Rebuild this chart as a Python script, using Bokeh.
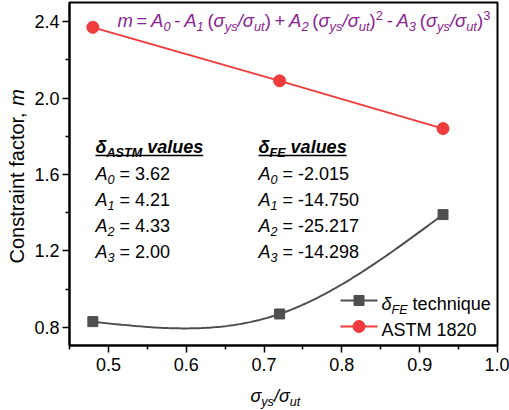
import numpy as np
from bokeh.plotting import figure
from bokeh.layouts import row, column
from bokeh.models import Label, FixedTicker, PrintfTickFormatter, Range1d
from bokeh.embed import file_html
from bokeh.resources import INLINE

# ---------------- data ----------------
ratio = [0.48, 0.72, 0.93]          # sigma_ys / sigma_ut
m_fe = [0.83, 0.87, 1.39]           # delta_FE technique
m_astm = [2.37, 2.09, 1.84]         # ASTM 1820
astm_coef = ["3.62", "4.21", "4.33", "2.00"]
fe_coef = ["-2.015", "-14.750", "-25.217", "-14.298"]
x_ticks = [0.5, 0.6, 0.7, 0.8, 0.9, 1.0]
x_minor = [0.45, 0.55, 0.65, 0.75, 0.85, 0.95]
y_ticks = [0.8, 1.2, 1.6, 2.0, 2.4]
y_minor = [1.0, 1.4, 1.8, 2.2]

# ---------------- geometry / style ----------------
X0, X1 = 0.45, 1.0
Y0, Y1 = 0.705, 2.5
W, H = 509, 410
YLAB_W = 28          # strip holding the y-axis title
XLAB_H = 25          # strip holding the x-axis title
PW, PH = W - YLAB_W, H - XLAB_H
FL, FR, FT, FB = 69, 497, 2, 345      # frame edges in page pixels
FONT = "Liberation Sans"
GRAY = "#4f4f4f"
RED = "#f03c3c"
PURPLE = "#8a2391"
SUB = 0.7
BL_FIX = 0.27        # baseline correction (fraction of font size)


def natural_spline(xs, ys, n=80):
    xs = np.asarray(xs, float)
    ys = np.asarray(ys, float)
    k = len(xs)
    h = np.diff(xs)
    A = np.zeros((k, k))
    b = np.zeros(k)
    A[0, 0] = A[-1, -1] = 1.0
    for i in range(1, k - 1):
        A[i, i - 1] = h[i - 1]
        A[i, i] = 2 * (h[i - 1] + h[i])
        A[i, i + 1] = h[i]
        b[i] = 6 * ((ys[i + 1] - ys[i]) / h[i] - (ys[i] - ys[i - 1]) / h[i - 1])
    M = np.linalg.solve(A, b)
    xx, yy = [], []
    for i in range(k - 1):
        t = np.linspace(xs[i], xs[i + 1], n)
        a = xs[i + 1] - t
        c = t - xs[i]
        s = (M[i] * a ** 3 + M[i + 1] * c ** 3) / (6 * h[i]) \
            + (ys[i] / h[i] - M[i] * h[i] / 6) * a \
            + (ys[i + 1] / h[i] - M[i + 1] * h[i] / 6) * c
        xx.extend(t.tolist())
        yy.extend(s.tolist())
    return xx, yy


p = figure(width=PW, height=PH, x_range=Range1d(X0, X1), y_range=Range1d(Y0, Y1),
           output_backend="svg", toolbar_location=None,
           min_border_left=FL - YLAB_W, min_border_right=W - FR,
           min_border_top=FT, min_border_bottom=PH - FB)
p.grid.visible = False
p.outline_line_color = "black"
p.outline_line_width = 2
p.background_fill_color = "white"
p.border_fill_color = "white"

for ax, tk, mn in ((p.xaxis[0], x_ticks, x_minor), (p.yaxis[0], y_ticks, y_minor)):
    ax.ticker = FixedTicker(ticks=tk, minor_ticks=mn)
    ax.formatter = PrintfTickFormatter(format="%.1f")
    ax.axis_line_width = 2
    ax.axis_line_color = "black"
    ax.major_tick_out = 7
    ax.major_tick_in = 0
    ax.minor_tick_out = 4
    ax.minor_tick_in = 0
    ax.major_tick_line_width = 1.5
    ax.minor_tick_line_width = 1.5
    ax.major_label_text_font = FONT
    ax.major_label_text_font_size = "18px"
    ax.major_label_text_color = "black"
p.xaxis.major_label_standoff = 5
p.yaxis.major_label_standoff = 3

# ---------------- series ----------------
sx, sy = natural_spline(ratio, m_fe)
p.line(sx, sy, line_color=GRAY, line_width=2)
p.scatter(ratio, m_fe, marker="square", size=10, fill_color=GRAY, line_color=GRAY)
p.line(ratio, m_astm, line_color=RED, line_width=2)
p.scatter(ratio, m_astm, marker="circle", size=12, fill_color=RED, line_color=RED)

# ---------------- text helpers ----------------
REG = {' ': 278, '(': 333, ')': 333, '+': 584, ',': 278, '-': 333, '.': 278, '/': 278,
       '=': 584, 'A': 667, 'C': 722, 'E': 667, 'F': 611, 'M': 833, 'S': 667, 'T': 611,
       'a': 556, 'c': 500, 'e': 556, 'f': 278, 'h': 556, 'i': 222, 'l': 222, 'm': 833,
       'n': 556, 'o': 556, 'q': 556, 'r': 333, 's': 500, 't': 278, 'u': 556, 'v': 500,
       'y': 500, 'k': 500, 'σ': 600, 'δ': 556}
BOLD = {' ': 278, 'A': 722, 'S': 667, 'T': 611, 'M': 833, 'E': 667, 'F': 611, 'v': 556,
        'a': 556, 'l': 278, 'u': 611, 'e': 556, 's': 556, 'δ': 611}


def tw(s, bold, space=None):
    tab = BOLD if bold else REG
    tot = 0
    for ch in s:
        if ch == " " and space is not None:
            tot += space
        else:
            tot += tab.get(ch, 556)
    return tot / 1000.0


def px2data(px, py):
    return (X0 + (px - FL) / (FR - FL) * (X1 - X0),
            Y1 - (py - FT) / (FB - FT) * (Y1 - Y0))


def rich(fig, px, py, runs, size, color="black", angle=0.0, space=None, units="data"):
    """Lay out runs of text (normal / sub / sup) one after another."""
    if units == "data":
        x, y = px2data(px, py)
    else:                      # canvas units: origin top-left, y downward
        x, y = px, py
    adv = 0.0
    for text, style, pos in runs:
        fs = size * SUB if pos in ("sub", "sup") else size
        shift = {"n": 0.0, "sub": -0.25 * size, "sup": 0.36 * size}[pos]
        shift += BL_FIX * fs
        bold = "bold" in style
        lead = len(text) - len(text.lstrip(" "))
        core = text.strip(" ")
        off = adv + tw(" " * lead, bold, space) * fs
        if core:
            if angle:
                xo, yo = -shift, off
            else:
                xo, yo = off, shift
            if units == "canvas":
                x_, y_ = x + xo, y - yo
                xo, yo = 0, 0
            else:
                x_, y_ = x, y
            fig.add_layout(Label(x=x_, y=y_, x_units=units, y_units=units,
                                 x_offset=xo, y_offset=yo, text=core,
                                 text_font=FONT, text_font_size=f"{fs:.1f}px",
                                 text_font_style=style, text_color=color,
                                 text_baseline="alphabetic", text_align="left",
                                 angle=angle))
        adv += tw(text, bold, space) * fs
    return adv


I, N, BI = "italic", "normal", "bold italic"

# equation
sig = [("σ", I, "n"), ("ys", I, "sub"), ("/", I, "n"), ("σ", I, "n"), ("ut", I, "sub")]
eq = [("m", I, "n"), (" = ", N, "n"), ("A", I, "n"), ("0", I, "sub"), (" - ", N, "n"),
      ("A", I, "n"), ("1", I, "sub"), (" (", N, "n")] + sig + [(")", N, "n"),
      (" + ", N, "n"), ("A", I, "n"), ("2", I, "sub"), (" (", N, "n")] + sig + [
      (")", N, "n"), ("2", N, "sup"), (" - ", N, "n"), ("A", I, "n"), ("3", I, "sub"),
      (" (", N, "n")] + sig + [(")", N, "n"), ("3", N, "sup")]
rich(p, 117, 25, eq, 18.5, PURPLE, space=200)

# coefficient blocks
for bx, tag, coefs in ((95, "ASTM", astm_coef), (258, "FE", fe_coef)):
    w = rich(p, bx, 151, [("δ", BI, "n"), (tag, BI, "sub"), (" values", BI, "n")], 18)
    ux0, uy = px2data(bx, 155)
    ux1, _ = px2data(bx + w, 155)
    p.line([ux0, ux1], [uy, uy], line_color="black", line_width=1.5)
    for i, c in enumerate(coefs):
        rich(p, bx, 178 + 26 * i,
             [("A", I, "n"), (str(i), I, "sub"), (" = " + c, N, "n")], 18)

# legend
lx0, ly1 = px2data(340, 300)
lx1, ly2 = px2data(377, 326)
lxm, _ = px2data(358.5, 300)
p.line([lx0, lx1], [ly1, ly1], line_color=GRAY, line_width=2)
p.scatter([lxm], [ly1], marker="square", size=10, fill_color=GRAY, line_color=GRAY)
p.line([lx0, lx1], [ly2, ly2], line_color=RED, line_width=2)
p.scatter([lxm], [ly2], marker="circle", size=12, fill_color=RED, line_color=RED)
rich(p, 381, 308, [("δ", I, "n"), ("FE", I, "sub"), (" technique", N, "n")], 18)
rich(p, 381, 334, [("ASTM 1820", N, "n")], 18)


# ---------------- axis titles in their own strips ----------------
def strip(w, h):
    f = figure(width=w, height=h, x_axis_type=None, y_axis_type=None,
               output_backend="svg", toolbar_location=None,
               min_border_left=0, min_border_right=0, min_border_top=0,
               min_border_bottom=0)
    f.outline_line_color = None
    f.grid.visible = False
    f.background_fill_color = "white"
    f.border_fill_color = "white"
    return f


ylab = strip(YLAB_W, PH)
rich(ylab, 22, 263, [("Constraint factor, ", N, "n"), ("m", I, "n")], 20,
     angle=np.pi / 2, units="canvas")
xlab = strip(W, XLAB_H)
rich(xlab, 250, 400 - PH, sig, 18, units="canvas")

layout = column(row(ylab, p, spacing=0), xlab, spacing=0)
open("out.html", "w").write(file_html(layout, INLINE))
